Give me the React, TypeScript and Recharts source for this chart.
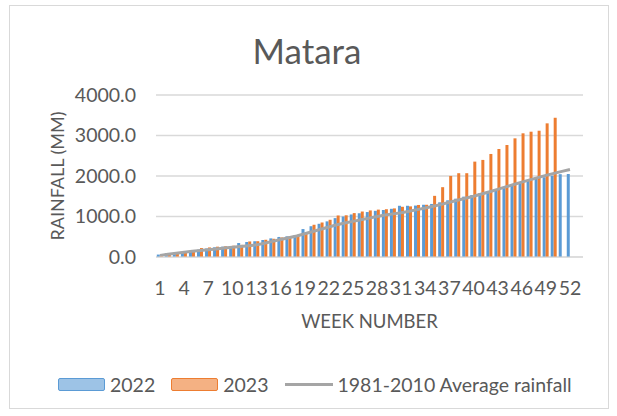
import {
  ComposedChart,
  Bar,
  Line,
  XAxis,
  YAxis,
  CartesianGrid,
  Legend,
  Label,
} from "recharts";

const FONT = "Lato, 'Open Sans', sans-serif";
const TEXT = "#595959";

const weeks = [
  1, 2, 3, 4, 5, 6, 7, 8, 9, 10, 11, 12, 13, 14, 15, 16, 17, 18, 19, 20, 21,
  22, 23, 24, 25, 26, 27, 28, 29, 30, 31, 32, 33, 34, 35, 36, 37, 38, 39, 40,
  41, 42, 43, 44, 45, 46, 47, 48, 49, 50, 51, 52,
];

// cumulative rainfall (mm)
const rain2022 = [
  60, 90, 100, 120, 150, 180, 210, 240, 255, 270, 345, 370, 390, 420, 460, 495,
  510, 540, 690, 760, 820, 880, 960, 1000, 1050, 1080, 1110, 1140, 1160, 1190,
  1265, 1265, 1270, 1290, 1310, 1350, 1400, 1440, 1490, 1530, 1580, 1630, 1680,
  1730, 1780, 1830, 1880, 1930, 1970, 2010, 2045, 2050,
];

const rain2023 = [
  30, 60, 90, 138, 162, 221, 236, 255, 265, 278, 300, 384, 390, 426, 450, 483,
  508, 532, 591, 796, 852, 919, 1025, 1030, 1084, 1123, 1150, 1170, 1180, 1200,
  1240, 1250, 1285, 1290, 1510, 1724, 2002, 2069, 2069, 2355, 2397, 2544, 2667,
  2765, 2930, 3054, 3094, 3118, 3300, 3438, null, null,
];

const avg1981to2010 = [
  40, 70, 95, 120, 140, 160, 180, 200, 220, 240, 260, 280, 300, 340, 385, 430,
  475, 520, 575, 630, 685, 740, 795, 840, 880, 920, 960, 1000, 1035, 1065, 1095,
  1130, 1170, 1210, 1255, 1300, 1350, 1400, 1450, 1500, 1555, 1610, 1670, 1730,
  1790, 1850, 1905, 1960, 2015, 2065, 2115, 2160,
];

const yTicks = [0, 1000, 2000, 3000, 4000];

const data = weeks.map((w, i) => ({
  week: w,
  y2022: rain2022[i],
  y2023: rain2023[i],
  avg: avg1981to2010[i],
}));

const legendItems = [
  { label: "2022", kind: "bar", fill: "#9DC3E6", stroke: "#5B9BD5" },
  { label: "2023", kind: "bar", fill: "#F4B183", stroke: "#ED7D31" },
  { label: "1981-2010 Average rainfall", kind: "line", stroke: "#A5A5A5" },
];

function ChartLegend() {
  return (
    <div
      style={{
        display: "flex",
        alignItems: "center",
        height: 24,
        paddingLeft: 58,
        fontFamily: FONT,
        fontSize: 19.5,
        color: TEXT,
      }}
    >
      {legendItems.map((it) => (
        <div
          key={it.label}
          style={{ display: "flex", alignItems: "center", marginRight: 16 }}
        >
          {it.kind === "bar" ? (
            <div
              style={{
                width: 45,
                height: 11,
                background: it.fill,
                border: `1.5px solid ${it.stroke}`,
                borderRadius: 2,
                marginRight: 5,
              }}
            />
          ) : (
            <div
              style={{
                width: 48,
                height: 3,
                background: it.stroke,
                marginRight: 5,
              }}
            />
          )}
          <span>{it.label}</span>
        </div>
      ))}
    </div>
  );
}

export default function App() {
  return (
    <div
      style={{
        position: "absolute",
        left: 0,
        top: 0,
        width: 617,
        height: 416,
        background: "#fff",
      }}
    >
      <div
        style={{
          position: "absolute",
          left: 9,
          top: 5,
          width: 600,
          height: 404,
          border: "1px solid #D9D9D9",
          boxSizing: "border-box",
        }}
      />
      <div
        style={{
          position: "absolute",
          left: 0,
          width: 614,
          top: 29,
          textAlign: "center",
          fontFamily: FONT,
          fontSize: 35,
          color: TEXT,
        }}
      >
        Matara
      </div>
      <ComposedChart
        width={617}
        height={416}
        data={data}
        margin={{ top: 95, right: 34, bottom: 20, left: 0 }}
        barCategoryGap="10%"
        barGap={0}
        style={{ position: "absolute", left: 0, top: 0 }}
      >
        <CartesianGrid vertical={false} stroke="#D9D9D9" strokeWidth={1.5} />
        <XAxis
          dataKey="week"
          interval={2}
          height={115}
          padding={{ left: 0, right: 9 }}
          axisLine={{ stroke: "#D9D9D9" }}
          tickLine={false}
          tickMargin={18}
          tick={{ fill: TEXT, fontSize: 19.5, fontFamily: FONT }}
        >
          <Label
            value="WEEK NUMBER"
            position="insideTop"
            offset={58}
            style={{ fill: TEXT, fontSize: 18.5, fontFamily: FONT }}
          />
        </XAxis>
        <YAxis
          width={156}
          domain={[0, 4000]}
          ticks={yTicks}
          axisLine={false}
          tickLine={false}
          tickMargin={14}
          tickFormatter={(v: number) => v.toFixed(1)}
          tick={{ fill: TEXT, fontSize: 19.5, fontFamily: FONT }}
        >
          <Label
            content={({ viewBox }: any) => {
              const cy = viewBox.y + viewBox.height / 2;
              return (
                <text
                  x={57}
                  y={cy}
                  transform={`rotate(-90, 57, ${cy})`}
                  textAnchor="middle"
                  dominantBaseline="central"
                  fill={TEXT}
                  fontSize={18}
                  fontFamily={FONT}
                >
                  RAINFALL (MM)
                </text>
              );
            }}
          />
        </YAxis>
        <Legend
          verticalAlign="bottom"
          wrapperStyle={{ left: 0, width: 617 }}
          content={() => <ChartLegend />}
        />
        <Bar
          dataKey="y2022"
          name="2022"
          fill="#5B9BD5"
          isAnimationActive={false}
        />
        <Bar
          dataKey="y2023"
          name="2023"
          fill="#ED7D31"
          isAnimationActive={false}
        />
        <Line
          dataKey="avg"
          name="1981-2010 Average rainfall"
          type="linear"
          stroke="#A5A5A5"
          strokeWidth={3}
          dot={false}
          activeDot={false}
          isAnimationActive={false}
        />
      </ComposedChart>
    </div>
  );
}
